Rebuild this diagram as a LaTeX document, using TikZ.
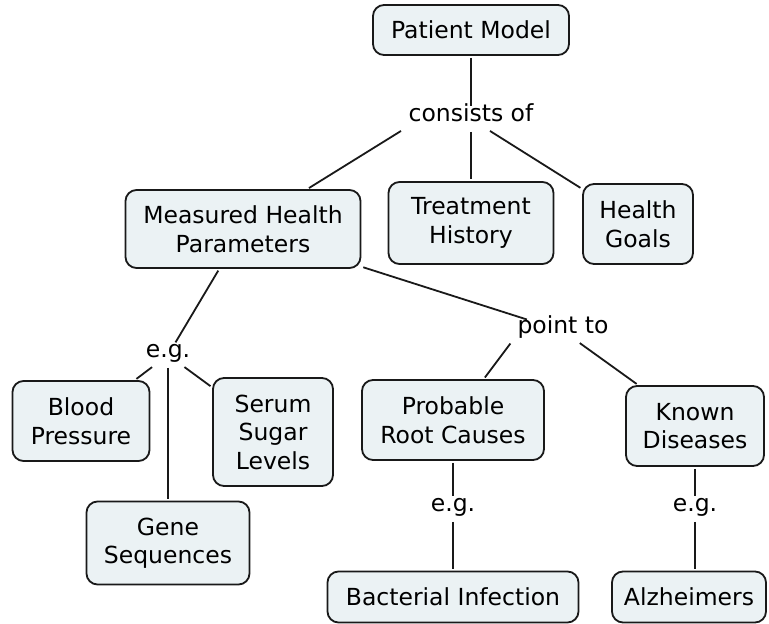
\documentclass[tikz,border=0pt]{standalone}
\usepackage{fontspec}
\setmainfont{DejaVu Sans}
\usetikzlibrary{positioning}
\definecolor{boxfill}{RGB}{235,242,244}
\definecolor{boxline}{RGB}{25,25,25}

\begin{document}
\begin{tikzpicture}[line width=1.8pt,node distance=100pt,on grid,
    font=\fontsize{23.5}{28.5}\selectfont,
    concept/.style={draw=boxline,fill=boxfill,rounded corners=11pt,align=center,inner sep=2pt},
    link/.style={inner sep=5pt,text height=0.75em,text depth=0.25em},
    conn/.style={draw=boxline,shorten >=2pt,shorten <=2pt}]
                \useasboundingbox (0,0) rectangle (769pt,-624pt);
                \node[concept,minimum width=196pt,minimum height=50pt] (patient) at (471pt,-30pt) {Patient Model};
                \node[link] (consists) [below=89pt of patient] {consists of};
                \node[concept,minimum width=235pt,minimum height=78pt] (measured) [below left=110pt and 228pt of consists] {Measured Health\\Parameters};
                \node[concept,minimum width=165pt,minimum height=82pt] (treatment) [below=104pt of consists] {Treatment\\History};
                \node[concept,minimum width=110pt,minimum height=80pt] (goals) [below right=105pt and 167pt of consists] {Health\\Goals};
                \node[link] (pointto) [below right=102pt and 320pt of measured] {point to};
                \node[link] (eg_1) [below left=126pt and 75pt of measured] {e.g.};
                \node[concept,minimum width=137pt,minimum height=80pt] (blood) [below left=66pt and 87pt of eg_1] {Blood\\Pressure};
                \node[concept,minimum width=120pt,minimum height=108pt] (serum) [below right=77pt and 105pt of eg_1] {Serum\\Sugar\\Levels};
                \node[concept,minimum width=163pt,minimum height=83pt] (gene) [below=188pt of eg_1] {Gene\\Sequences};
                \node[concept,minimum width=182pt,minimum height=80pt] (causes) [below left=89pt and 110pt of pointto] {Probable\\Root Causes};
                \node[concept,minimum width=138pt,minimum height=80pt] (known) [below right=95pt and 132pt of pointto] {Known\\Diseases};
                \node[link] (eg_2) [below=89pt of causes] {e.g.};
                \node[link] (eg_3) [below=83pt of known] {e.g.};
                \node[concept,minimum width=251pt,minimum height=51pt] (bacterial) [below=88pt of eg_2] {Bacterial Infection};
                \node[concept,minimum width=154pt,minimum height=51pt] (alzheimers) [below left=88pt and 6pt of eg_3] {Alzheimers};

                \path[conn]
                (patient) edge (consists)
                (consists.south west) edge (measured)
                (consists) edge (treatment)
                           edge (goals)
                (measured) edge (pointto)
                           edge (eg_1)
                (eg_1) edge (blood)
                       edge (serum)
                       edge (gene)
                (pointto.south west) edge (causes)
                (pointto) edge (known)
                (causes) edge (eg_2)
                (eg_2) edge (bacterial)
                (known) edge (eg_3)
                (eg_3) edge (eg_3 |- alzheimers.north)
                ;
\end{tikzpicture}
\end{document}
